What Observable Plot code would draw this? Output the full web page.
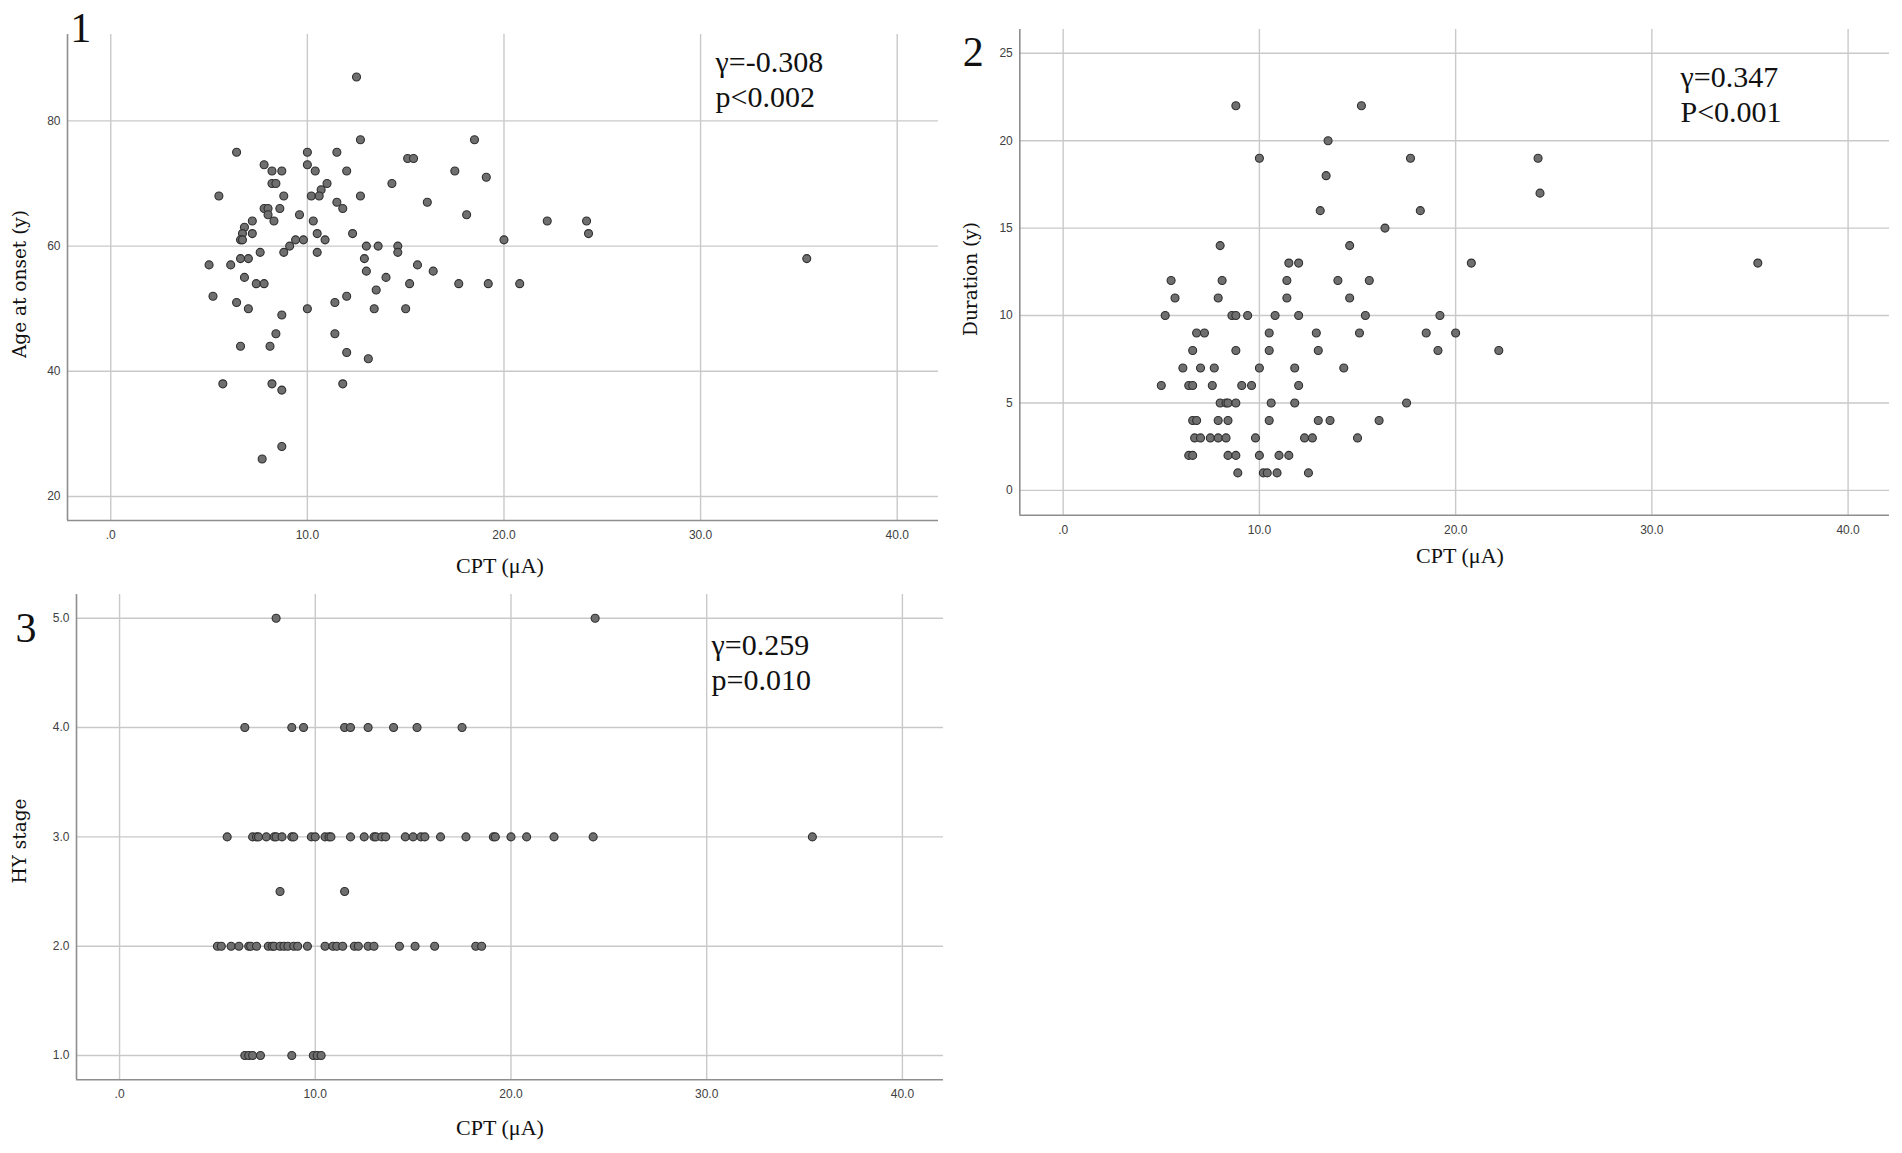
<!DOCTYPE html>
<html>
<head>
<meta charset="utf-8">
<script src="https://cdn.jsdelivr.net/npm/d3@7"></script>
<script src="https://cdn.jsdelivr.net/npm/@observablehq/plot@0.6"></script>
<style>
  html, body { margin: 0; padding: 0; background: #fff; }
  #wrap { position: relative; width: 1902px; height: 1153px; overflow: hidden; background: #fff; }
  .panel { position: absolute; }
  .panel svg { max-width: none !important; }
  .txt { position: absolute; white-space: nowrap; color: #111; font-family: "Liberation Serif", "Times New Roman", serif; }
  .num { font-size: 42px; line-height: 42px; }
  .ann { font-size: 30px; line-height: 35px; }
  .xlab { font-size: 22px; line-height: 22px; width: 240px; text-align: center; }
  .ylab { font-family: "DejaVu Serif", serif; font-size: 18.5px; line-height: 20px; width: 300px; height: 20px; text-align: center; transform: rotate(-90deg); transform-origin: 50% 50%; }
</style>
</head>
<body>
<div id="wrap"></div>
<script>
// ---------- data ----------
const xTicks = [0, 10, 20, 30, 40];

// Panel 1: CPT vs age at onset
const cpt1 = [12.5,18.5,12.7,6.4,10.0,11.5,15.1,15.4,7.8,10.0,8.2,8.7,10.4,12.0,17.5,19.1,8.2,8.4,11.0,14.3,
  10.7,5.5,8.8,10.2,10.6,12.7,11.5,16.1,7.8,8.0,8.6,11.8,8.0,9.6,18.1,7.2,8.3,10.3,22.2,24.2,
  6.8,6.7,7.2,10.5,12.3,24.3,6.6,6.7,9.4,9.8,10.9,20.0,9.1,13.0,13.6,14.6,7.6,8.8,10.5,14.6,
  6.6,7.0,12.9,35.4,5.0,6.1,15.6,13.0,16.4,6.8,14.0,7.4,7.8,15.2,17.7,19.2,20.8,13.5,5.2,12.0,
  6.4,11.4,7.0,10.0,13.4,15.0,8.7,8.4,11.4,6.6,8.1,12.0,13.1,5.7,8.2,11.8,8.7,8.7,7.7];
const age = [87,77,77,75,75,75,74,74,73,73,72,72,72,72,72,71,70,70,70,70,
  69,68,68,68,68,68,67,67,66,66,66,66,65,65,65,64,64,64,64,64,
  63,62,62,62,62,62,61,61,61,61,61,61,60,60,60,60,59,59,59,59,
  58,58,58,58,57,57,57,56,56,55,55,54,54,54,54,54,54,53,52,52,
  51,51,50,50,50,50,49,46,46,44,44,43,42,38,38,38,37,28,26];
const yTicks1 = [20, 40, 60, 80];

// Panel 2: CPT vs duration
const cpt2 = [8.8,15.2,13.5,10.0,17.7,24.2,13.4,24.3,13.1,18.2,16.4,8.0,14.6,11.5,12.0,20.8,35.4,
  5.5,8.1,11.4,14.0,15.6,5.7,7.9,11.4,14.6,5.2,8.6,8.8,9.4,10.8,12.0,15.4,19.2,
  6.8,7.2,10.5,12.9,15.1,18.5,20.0,6.6,8.8,10.5,13.0,19.1,22.2,6.1,7.0,7.7,10.0,11.8,14.3,
  5.0,6.4,6.6,7.6,9.1,9.6,12.0,8.0,8.3,8.4,8.8,10.6,11.8,17.5,
  6.6,6.8,7.9,8.4,10.5,13.0,13.6,16.1,6.7,7.0,7.5,7.9,8.3,9.8,12.3,12.7,15.0,
  6.4,6.6,8.4,8.8,10.0,11.0,11.5,8.9,10.2,10.4,10.9,12.5];
const duration = [22,22,20,19,19,19,18,17,16,16,15,14,14,13,13,13,13,
  12,12,12,12,12,11,11,11,11,10,10,10,10,10,10,10,10,
  9,9,9,9,9,9,9,8,8,8,8,8,8,7,7,7,7,7,7,
  6,6,6,6,6,6,6,5,5,5,5,5,5,5,
  4,4,4,4,4,4,4,4,3,3,3,3,3,3,3,3,3,
  2,2,2,2,2,2,2,1,1,1,1,1];
const yTicks2 = [0, 5, 10, 15, 20, 25];

// Panel 3: CPT vs HY stage
const cpt3 = [8.0,24.3,
  6.4,8.8,9.4,11.5,11.8,12.7,14.0,15.2,17.5,
  5.5,6.8,7.0,7.1,7.5,7.9,8.0,8.3,8.8,8.9,9.8,10.0,10.5,10.7,10.8,11.8,12.5,13.0,13.1,13.4,13.6,14.6,15.0,15.4,15.6,16.4,17.7,19.1,19.2,20.0,20.8,22.2,24.2,35.4,
  8.2,11.5,
  5.0,5.2,5.7,6.1,6.6,6.7,7.0,7.6,7.8,7.9,8.2,8.4,8.6,8.9,9.1,9.6,10.5,10.9,11.1,11.4,12.0,12.2,12.7,13.0,14.3,15.1,16.1,18.2,18.5,
  6.4,6.6,6.8,7.2,8.8,9.9,10.1,10.3];
const hy = [5,5,
  4,4,4,4,4,4,4,4,4,
  3,3,3,3,3,3,3,3,3,3,3,3,3,3,3,3,3,3,3,3,3,3,3,3,3,3,3,3,3,3,3,3,3,3,
  2.5,2.5,
  2,2,2,2,2,2,2,2,2,2,2,2,2,2,2,2,2,2,2,2,2,2,2,2,2,2,2,2,2,
  1,1,1,1,1,1,1,1];
const yTicks3 = [1, 2, 3, 4, 5];

// ---------- drawing ----------
const wrap = document.getElementById("wrap");
const fmtX = d => d === 0 ? ".0" : d.toFixed(1);

function panel({xs, ys, xDomain, yDomain, yTicks, yFmt, left, top, width, height, mL, mR, mT, mB}) {
  const data = xs.map((x, i) => ({x, y: ys[i]}));
  const chart = Plot.plot({
    width, height,
    marginLeft: mL, marginRight: mR, marginTop: mT, marginBottom: mB,
    style: {background: "transparent", fontFamily: "'Liberation Sans', Arial, sans-serif", fontSize: "12px", color: "#404040", overflow: "visible"},
    x: {domain: xDomain, ticks: xTicks, tickFormat: fmtX, tickSize: 0, tickPadding: 10, label: null},
    y: {domain: yDomain, ticks: yTicks, tickFormat: yFmt, tickSize: 0, tickPadding: 7, label: null},
    marks: [
      Plot.ruleX(xTicks, {stroke: "#c9c9c9", strokeWidth: 1.4}),
      Plot.ruleY(yTicks, {stroke: "#c9c9c9", strokeWidth: 1.4}),
      Plot.ruleX([xDomain[0]], {stroke: "#8e8e8e", strokeWidth: 1.6}),
      Plot.ruleY([yDomain[0]], {stroke: "#8e8e8e", strokeWidth: 1.6}),
      Plot.dot(data, {x: "x", y: "y", r: 4, fill: "#6f6f6f", stroke: "#2f2f2f", strokeWidth: 1.1})
    ]
  });
  const div = document.createElement("div");
  div.className = "panel";
  div.style.left = left + "px";
  div.style.top = top + "px";
  div.style.width = width + "px";
  div.appendChild(chart);
  wrap.appendChild(div);
}

panel({xs: cpt1, ys: age, xDomain: [-2.2, 42.1], yDomain: [16.17, 93.8], yTicks: yTicks1, yFmt: d => String(d),
  left: 0, top: 0, width: 950, height: 580, mL: 67, mR: 12, mT: 34, mB: 60});
panel({xs: cpt2, ys: duration, xDomain: [-2.21, 42.11], yDomain: [-1.42, 26.36], yTicks: yTicks2, yFmt: d => String(d),
  left: 950, top: 0, width: 952, height: 580, mL: 69.3, mR: 13, mT: 29, mB: 65.3});
panel({xs: cpt3, ys: hy, xDomain: [-2.2, 42.1], yDomain: [0.778, 5.217], yTicks: yTicks3, yFmt: d => d.toFixed(1),
  left: 0, top: 580, width: 950, height: 573, mL: 76, mR: 7, mT: 14, mB: 73.7});

// ---------- texts ----------
function addText(cls, html, left, top) {
  const d = document.createElement("div");
  d.className = "txt " + cls;
  d.innerHTML = html;
  d.style.left = left + "px";
  d.style.top = top + "px";
  wrap.appendChild(d);
}
addText("num", "1", 70.3, 6.8);
addText("num", "2", 962.7, 30.8);
addText("num", "3", 15.4, 606.8);

addText("ann", "γ=-0.308<br>p&lt;0.002", 715.5, 44.1);
addText("ann", "γ=0.347<br>P&lt;0.001", 1680.5, 59.1);
addText("ann", "γ=0.259<br>p=0.010", 711.5, 627.4);

addText("xlab", "CPT (μA)", 500 - 120, 555);
addText("xlab", "CPT (μA)", 1460 - 120, 545);
addText("xlab", "CPT (μA)", 500 - 120, 1116.6);

addText("ylab", "Age at onset (y)", 20.3 - 150, 284 - 10);
addText("ylab", "Duration (y)", 971 - 150, 279 - 10);
addText("ylab", "HY stage", 20 - 150, 841 - 10);
</script>
</body>
</html>
